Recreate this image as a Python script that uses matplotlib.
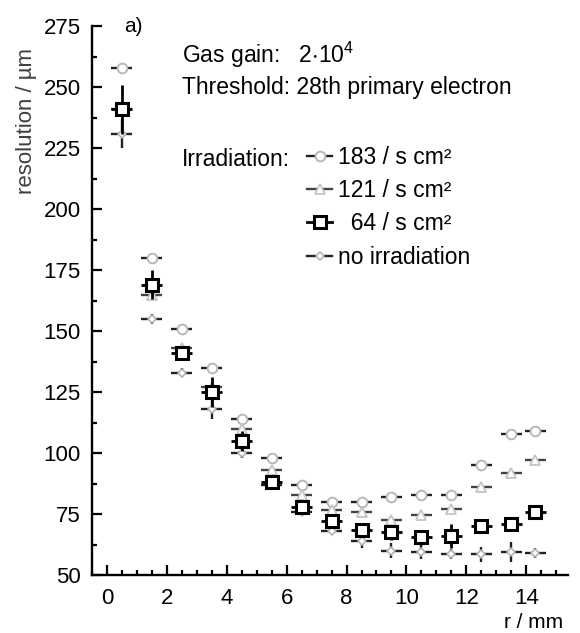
import matplotlib
matplotlib.use('Agg')
import matplotlib.pyplot as plt
from matplotlib.lines import Line2D
from matplotlib.ticker import MultipleLocator

plt.rcParams['font.family'] = ['Liberation Sans', 'DejaVu Sans']
plt.rcParams['mathtext.fontset'] = 'custom'
plt.rcParams['mathtext.rm'] = 'Liberation Sans'
plt.rcParams['mathtext.default'] = 'regular'

# radial bins (mm)
r = [0.5, 1.5, 2.5, 3.5, 4.5, 5.5, 6.5, 7.5, 8.5, 9.5, 10.5, 11.5, 12.5, 13.5, 14.3]

# resolution in um for each irradiation rate
res_183 = [258, 180, 151, 135, 114, 98, 87, 80, 80, 82, 83, 83, 95, 108, 109]
res_121 = [241, 165, 143, 127, 110, 93, 83, 76.5, 76, 72.5, 74.5, 77, 86, 92, 97]
res_64 = [241, 169, 141, 125, 105, 88, 78, 72, 68.5, 67.5, 65.5, 66, 70, 71, 76]
res_none = [231, 155, 133, 118, 100, 87, 76, 68, 64, 60, 59.5, 58.5, 58.5, 59.5, 59]

err_64 = [10, 6, 3, 6, 4, 2, 2, 2, 2, 3, 3, 5, 2, 2, 2]
err_none = [6, 2, 2, 4, 2, 1, 1, 1, 3, 3, 3, 2, 3, 4, 2]

labels = ['183 / s cm\u00b2', '121 / s cm\u00b2', '  64 / s cm\u00b2', 'no irradiation']

fig = plt.figure(figsize=(5.8, 6.33), dpi=100)
ax = fig.add_axes([0.1586, 0.0916, 0.821, 0.867])

xw = 0.35  # half width of horizontal bars

st_183 = dict(marker='o', ms=7, mfc='white', mec='#b8b8b8', mew=1.4)
st_121 = dict(marker='^', ms=6.5, mfc='white', mec='#c4c4c4', mew=1.3)
st_64 = dict(marker='s', ms=9, mfc='white', mec='black', mew=2.2)
st_none = dict(marker='D', ms=4.5, mfc='white', mec='#b0b0b0', mew=1.1)

ax.errorbar(r, res_183, xerr=xw, ls='none', ecolor='#222222', elinewidth=1.7, capsize=0, zorder=3, **st_183)
ax.errorbar(r, res_121, xerr=xw, ls='none', ecolor='#444444', elinewidth=1.7, capsize=0, zorder=3, **st_121)
ax.errorbar(r, res_64, xerr=xw, yerr=err_64, ls='none', ecolor='black', elinewidth=2.0,
            capsize=0, zorder=4, **st_64)
ax.errorbar(r, res_none, xerr=xw, yerr=err_none, ls='none', ecolor='#222222', elinewidth=1.7,
            capsize=0, zorder=3, **st_none)

ax.set_xlim(-0.5, 15.4)
ax.set_ylim(50, 275)
ax.xaxis.set_major_locator(MultipleLocator(2))
ax.xaxis.set_minor_locator(MultipleLocator(0.5))
ax.yaxis.set_major_locator(MultipleLocator(25))
ax.yaxis.set_minor_locator(MultipleLocator(12.5))

for s in ['top', 'right']:
    ax.spines[s].set_visible(False)
for s in ['left', 'bottom']:
    ax.spines[s].set_linewidth(1.7)

ax.tick_params(which='both', direction='in', width=1.6, labelsize=16)
ax.tick_params(axis='x', pad=9)
ax.tick_params(axis='y', pad=8)
ax.tick_params(which='major', length=7)
ax.tick_params(which='minor', length=3.5)

ax.set_ylabel('resolution / \u00b5m', fontsize=16, color='#404040', loc='top')
ax.yaxis.set_label_coords(-0.115, 0.96)
ax.set_xlabel('r / mm', fontsize=15, loc='right')
ax.xaxis.set_label_coords(0.99, -0.07)

ax.text(0.068, 1.0, 'a)', transform=ax.transAxes, fontsize=15, va='center', ha='left')
ax.text(0.189, 0.947, 'Gas gain:   2$\\cdot$10$^{4}$', transform=ax.transAxes, fontsize=16.5,
        va='center', ha='left')
ax.text(0.189, 0.889, 'Threshold: 28th primary electron', transform=ax.transAxes, fontsize=16.5,
        va='center', ha='left')
ax.text(0.189, 0.757, 'Irradiation:', transform=ax.transAxes, fontsize=16.5,
        va='center', ha='left')

handles = [
    Line2D([], [], color='#222222', lw=1.7, **st_183),
    Line2D([], [], color='#444444', lw=1.7, **st_121),
    Line2D([], [], color='black', lw=2.0, **st_64),
    Line2D([], [], color='#222222', lw=1.7, **st_none),
]
ax.legend(handles, labels, loc='upper left', bbox_to_anchor=(0.452, 0.782), frameon=False,
          prop={'size': 16.5}, handlelength=1.1, handletextpad=0.25, labelspacing=0.45,
          borderaxespad=0, borderpad=0, numpoints=1)

plt.savefig('out.png', dpi=100)
